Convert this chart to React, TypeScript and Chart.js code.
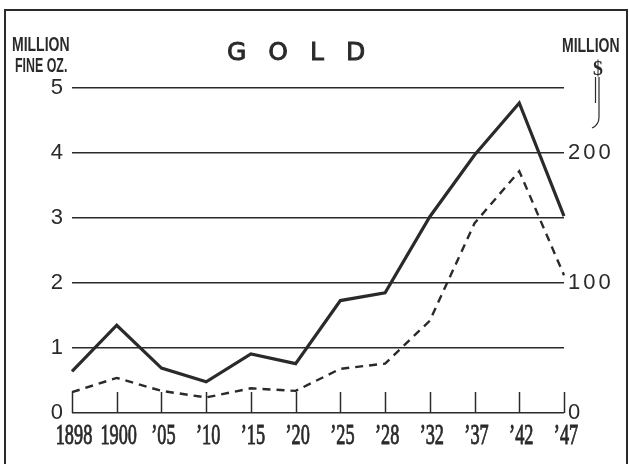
import React, { useEffect, useRef } from 'react';
import { Chart, registerables } from 'chart.js';

Chart.register(...registerables);

// Categories (years) as printed on the chart
const YEARS = ['1898', '1900', '\u201905', '\u201910', '\u201915', '\u201920', '\u201925', '\u201928', '\u201932', '\u201937', '\u201942', '\u201947'];
// Solid line: production, million fine ounces (left axis)
const OUNCES = [0.64, 1.35, 0.69, 0.48, 0.91, 0.76, 1.73, 1.85, 3.02, 3.97, 4.77, 3.03];
// Dashed line: value, million dollars (right axis)
const DOLLARS = [16, 27, 17, 12, 19, 17, 34, 38, 71, 146, 186, 106];
// Axis ticks
const LEFT_TICKS = [0, 1, 2, 3, 4, 5];
const RIGHT_TICKS = [0, 100, 200];
const LEFT_MAX = 5;
const RIGHT_MAX = 250;

const INK = '#2a2a2a';

function drawScaled(ctx: CanvasRenderingContext2D, text: string, x: number, y: number, font: string, sx: number, align: CanvasTextAlign, outline = 0) {
  ctx.save();
  ctx.font = font;
  ctx.textAlign = align;
  ctx.textBaseline = 'alphabetic';
  ctx.translate(x, y);
  ctx.scale(sx, 1);
  ctx.fillText(text, 0, 0);
  if (outline > 0) {
    ctx.lineWidth = outline;
    ctx.strokeText(text, 0, 0);
  }
  ctx.restore();
}

const decor = {
  id: 'decor',
  beforeDraw(chart: any) {
    chart.ctx.letterSpacing = '0px';
  },
  afterDatasetsDraw(chart: any) {
    // spacing for the right-hand labels, which are drawn in a later layer
    chart.ctx.letterSpacing = '3px';
  },
  afterDraw(chart: any) {
    const ctx: CanvasRenderingContext2D = chart.ctx;
    ctx.letterSpacing = '0px';
    const area = chart.chartArea;
    const xs = chart.scales.x;
    ctx.save();
    ctx.strokeStyle = INK;
    ctx.fillStyle = INK;

    // short upright tick marks at each year
    ctx.lineWidth = 1.5;
    xs.ticks.forEach((_t: any, i: number) => {
      const px = Math.round(xs.getPixelForTick(i)) + 0.5;
      ctx.beginPath();
      ctx.moveTo(px, area.bottom);
      ctx.lineTo(px, area.bottom - 21);
      ctx.stroke();
    });

    // year labels in a condensed serif
    xs.ticks.forEach((t: any, i: number) => {
      const label = xs.getLabelForValue(t.value);
      drawScaled(ctx, String(label), xs.getPixelForTick(i) + 2, area.bottom + 31, '29px "Liberation Serif", serif', 0.63, 'center', 0.9);
    });

    // axis titles
    drawScaled(ctx, 'MILLION', 12, 51, 'bold 20px "Liberation Sans", sans-serif', 0.7, 'left');
    drawScaled(ctx, 'FINE OZ.', 15, 72, 'bold 20px "Liberation Sans", sans-serif', 0.62, 'left');
    drawScaled(ctx, 'MILLION', 562, 52, 'bold 20px "Liberation Sans", sans-serif', 0.7, 'left');
    drawScaled(ctx, '$', 598, 75, 'bold 22px "Liberation Serif", serif', 0.9, 'center');

    // little connector line below the $
    ctx.lineWidth = 1.2;
    ctx.beginPath();
    ctx.moveTo(599, 77);
    ctx.lineTo(599, 117);
    ctx.quadraticCurveTo(599, 125, 592, 128);
    ctx.stroke();
    ctx.beginPath();
    ctx.moveTo(595.5, 77);
    ctx.lineTo(595.5, 103);
    ctx.stroke();

    // title
    ctx.font = '25px "DejaVu Sans", sans-serif';
    ctx.textAlign = 'left';
    ctx.textBaseline = 'alphabetic';
    ctx.letterSpacing = '22px';
    ctx.lineWidth = 0.9;
    ctx.fillText('GOLD', 227, 60);
    ctx.strokeText('GOLD', 227, 60);
    ctx.letterSpacing = '0px';

    // frame
    ctx.lineWidth = 2;
    ctx.beginPath();
    ctx.moveTo(5, 470);
    ctx.lineTo(5, 10);
    ctx.lineTo(627, 10);
    ctx.lineTo(627, 470);
    ctx.stroke();
    ctx.restore();
  },
};

export default function App() {
  const ref = useRef<HTMLCanvasElement | null>(null);

  useEffect(() => {
    if (!ref.current) return;
    const chart = new Chart(ref.current, {
      type: 'line',
      data: {
        labels: YEARS,
        datasets: [
          {
            label: 'Million fine oz.',
            data: OUNCES,
            yAxisID: 'y',
            borderColor: INK,
            borderWidth: 3.2,
            pointRadius: 0,
            tension: 0,
            borderJoinStyle: 'miter',
            fill: false,
          },
          {
            label: 'Million $',
            data: DOLLARS,
            yAxisID: 'y2',
            borderColor: INK,
            borderWidth: 2.4,
            borderDash: [8, 6],
            pointRadius: 0,
            tension: 0,
            fill: false,
          },
        ],
      },
      options: {
        responsive: true,
        maintainAspectRatio: false,
        animation: false,
        layout: { padding: { top: 88, left: 0, right: 0, bottom: 0 } },
        plugins: {
          legend: { display: false },
          tooltip: { enabled: false },
          title: { display: false },
        },
        scales: {
          x: {
            grid: { display: false, drawTicks: false },
            border: { display: false },
            ticks: { display: false, autoSkip: false, maxRotation: 0 },
            afterFit: (s: any) => { s.height = 51; },
          },
          y: {
            position: 'left',
            min: 0,
            max: LEFT_MAX,
            afterBuildTicks: (s: any) => { s.ticks = LEFT_TICKS.map((v) => ({ value: v })); },
            grid: { color: INK, lineWidth: 1.5, drawTicks: false },
            border: { display: false },
            ticks: { color: INK, font: { family: '"Liberation Sans", sans-serif', size: 22 }, padding: 9 },
            afterFit: (s: any) => { s.width = 72; },
          },
          y2: {
            position: 'right',
            min: 0,
            max: RIGHT_MAX,
            afterBuildTicks: (s: any) => { s.ticks = RIGHT_TICKS.map((v) => ({ value: v })); },
            grid: { display: false, drawTicks: false, drawOnChartArea: false },
            border: { display: false },
            ticks: { z: 1, color: INK, font: { family: '"Liberation Sans", sans-serif', size: 22 }, padding: 4 },
            afterFit: (s: any) => { s.width = 65; },
          },
        },
      },
      plugins: [decor],
    } as any);
    return () => chart.destroy();
  }, []);

  return (
    <div style={{ position: 'fixed', left: 0, top: 0, width: 629, height: 464, background: '#fff' }}>
      <canvas ref={ref} />
    </div>
  );
}
